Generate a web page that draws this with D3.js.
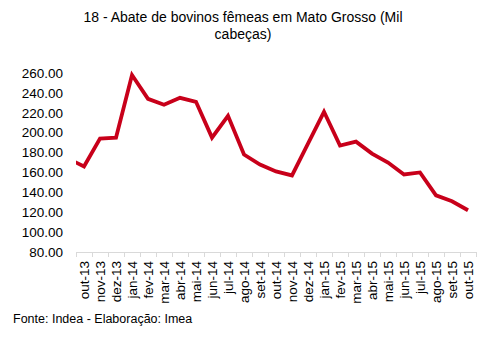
<!DOCTYPE html>
<html><head><meta charset="utf-8">
<script src="https://cdn.jsdelivr.net/npm/d3@7"></script>
<style>body{margin:0;background:#fff}svg{display:block}</style>
</head><body>
<script>
const titleLines = ["18 - Abate de bovinos fêmeas em Mato Grosso (Mil", "cabeças)"];
const categories = ["out-13","nov-13","dez-13","jan-14","fev-14","mar-14","abr-14","mai-14","jun-14","jul-14","ago-14","set-14","out-14","nov-14","dez-14","jan-15","fev-15","mar-15","abr-15","mai-15","jun-15","jul-15","ago-15","set-15","out-15"];
const values = [166,194,195,258,234,228,235,231,195,217,178,168,161,157,189,221,187,191,179,170,158,160,137,131,122];
const leadInValue = 174; // previous month (set-13), clipped at the plot edge
const yTicks = [80,100,120,140,160,180,200,220,240,260];
const source = "Fonte: Indea - Elaboração: Imea";

(function () {
const W = 491, H = 337;
const pL = 76, pR = 476, pT = 73, pB = 252;
const font = "'Liberation Sans', Arial, sans-serif";

const svg = d3.select("body").append("svg").attr("width", W).attr("height", H);

const x = d3.scaleBand().domain(categories).range([pL, pR]).paddingInner(0).paddingOuter(0);
const y = d3.scaleLinear().domain([80, 260]).range([pB, pT]);

// title
svg.append("g").selectAll("text").data(titleLines).join("text")
  .attr("x", 243).attr("y", (d, i) => 22 + i * 17)
  .attr("text-anchor", "middle").attr("font-family", font).attr("font-size", 14).attr("fill", "#000")
  .text(d => d);

// y axis labels
const yAxis = d3.axisLeft(y).tickValues(yTicks).tickFormat(d3.format(".2f")).tickSize(0).tickPadding(13);
const yg = svg.append("g").attr("transform", `translate(${pL},0)`).call(yAxis);
yg.select(".domain").remove();
yg.selectAll("text").attr("font-family", font).attr("font-size", 13.5).attr("fill", "#000");

// x axis
const xAxis = d3.axisBottom(x).tickSize(0).tickPadding(0);
const xg = svg.append("g").attr("transform", `translate(0,${pB})`).call(xAxis);
xg.select(".domain").attr("stroke", "#d9d9d9").attr("stroke-width", 1);
xg.selectAll(".tick text")
  .attr("font-family", font).attr("font-size", 13.5).attr("fill", "#000")
  .attr("transform", "rotate(-90)").attr("text-anchor", "end")
  .attr("x", -9).attr("y", 0).attr("dy", "0.35em");
// boundary tick marks
const bounds = categories.map(c => x(c)).concat([x(categories[categories.length-1]) + x.bandwidth()]);
svg.append("g").selectAll("line").data(bounds).join("line")
  .attr("x1", d => d + 0.5).attr("x2", d => d + 0.5)
  .attr("y1", pB).attr("y2", pB + 5)
  .attr("stroke", "#d9d9d9").attr("stroke-width", 1);

// clip
svg.append("clipPath").attr("id", "plot").append("rect")
  .attr("x", pL).attr("y", 0).attr("width", pR - pL + 10).attr("height", H);

const cx = (c) => x(c) + x.bandwidth() / 2;
const pts = [[cx(categories[0]) - x.bandwidth(), y(leadInValue)]]
  .concat(values.map((v, i) => [cx(categories[i]), y(v)]));

svg.append("path")
  .attr("clip-path", "url(#plot)")
  .attr("d", d3.line()(pts))
  .attr("fill", "none").attr("stroke", "#c8001a").attr("stroke-width", 3.8)
  .attr("stroke-linejoin", "miter").attr("stroke-linecap", "butt");

// source
svg.append("text").attr("x", 13).attr("y", 323)
  .attr("font-family", font).attr("font-size", 12.5).attr("fill", "#000").text(source);
})();
</script>
</body></html>
